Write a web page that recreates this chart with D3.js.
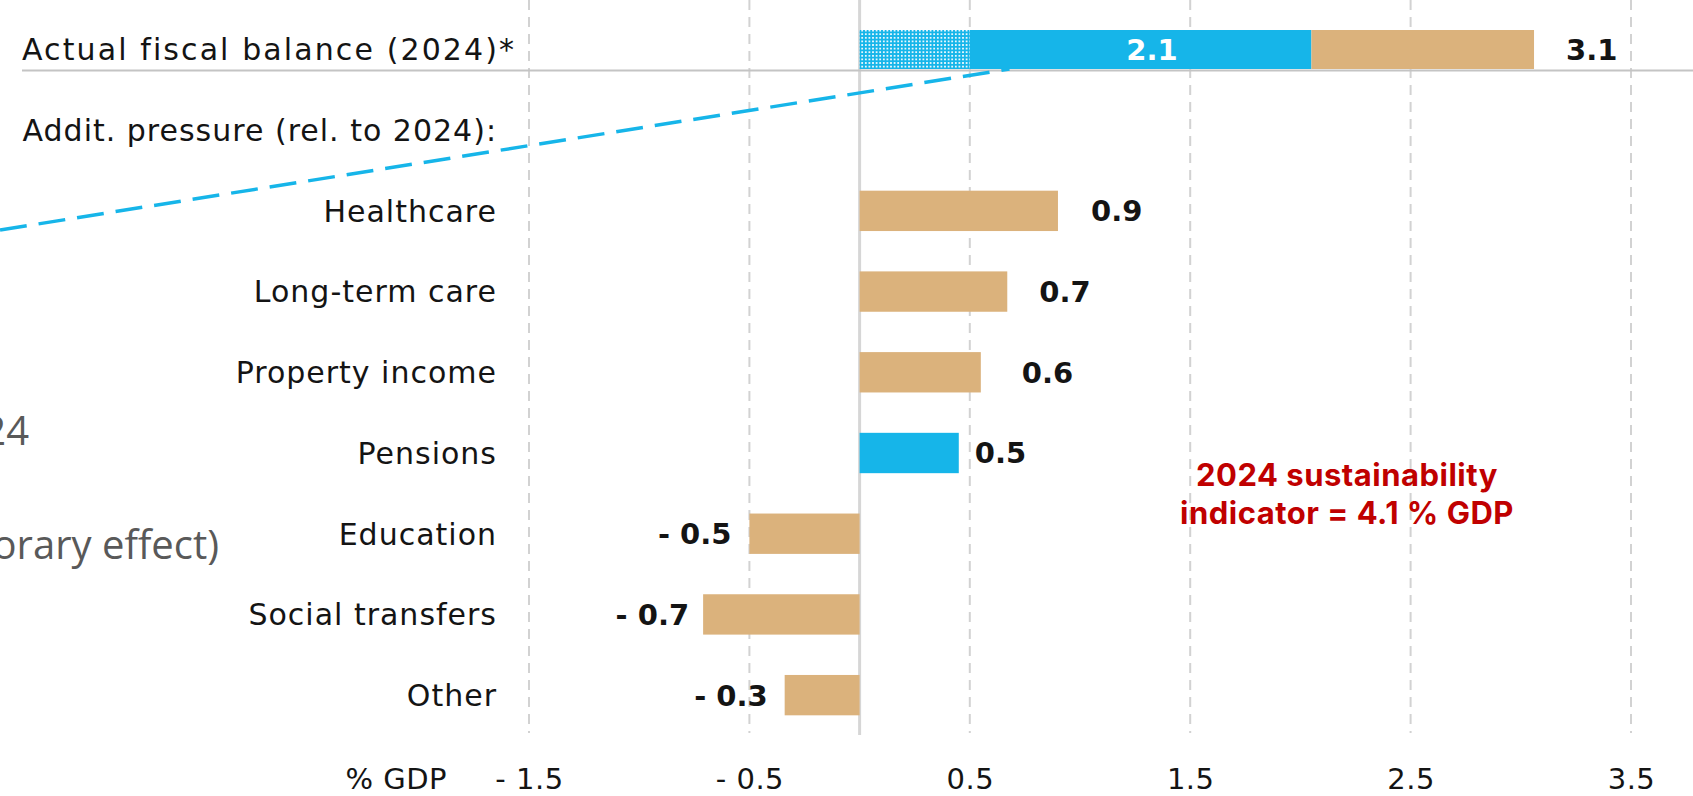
<!DOCTYPE html>
<html>
<head>
<meta charset="utf-8">
<script src="https://cdn.jsdelivr.net/npm/d3@7"></script>
<style>
  body { margin: 0; background: #fff; }
  svg { display: block; }
</style>
</head>
<body>
<div id="graph"></div>
<script>
// categories and values (% GDP)
var categories = ["Healthcare", "Long-term care", "Property income", "Pensions",
                  "Education", "Social transfers", "Other"];
var values = [0.90, 0.67, 0.55, 0.45, -0.50, -0.71, -0.34];
var valueLabels = ["0.9", "0.7", "0.6", "0.5", "- 0.5", "- 0.7", "- 0.3"];
var barKinds = ["tan", "tan", "tan", "blue", "tan", "tan", "tan"];

// top bar: actual fiscal balance 2024, split in three parts
var balanceKinds = ["dotted", "blue", "tan"];
var balanceBounds = [0, 0.5, 2.05, 3.06];
var balanceInnerLabel = "2.1";
var balanceTotalLabel = "3.1";

// axis
var tickValues = [-1.5, -0.5, 0.5, 1.5, 2.5, 3.5];

// leader line from the (clipped) note on the left to the top bar
var leaderFrom = -3.9, leaderTo = 0.68;

var width = 1693;
var height = 796;

// extra gap between bar end and its label (as placed in the original)
var labelGap = [33, 32, 41, 16, 18, 14, 17];

var colors = { tan: '#dbb27c', blue: '#16b5e9', red: '#c00000', text: '#141414' };

var x = d3.scaleLinear()
  .domain([-1.5, 3.5])
  .range([529, 1631]);

var y = d3.scaleBand()
  .domain(categories)
  .range([170.5, 735.5])
  .paddingInner(0.5)
  .paddingOuter(0.25);

var svg = d3.select('#graph').append('svg')
  .attr('width', width)
  .attr('height', height);

var defs = svg.append('defs');
var pat = defs.append('pattern')
  .attr('id', 'dots')
  .attr('patternUnits', 'userSpaceOnUse')
  .attr('width', 3.6)
  .attr('height', 3.6);
pat.append('rect').attr('width', 3.6).attr('height', 3.6).attr('fill', colors.blue);
pat.append('rect').attr('x', 0.9).attr('y', 0.9).attr('width', 1.8).attr('height', 1.8).attr('fill', '#e8f7fd');

var fill = function(k) {
  if (k == 'dotted') return 'url(#dots)';
  return colors[k];
};

// gridlines
svg.append('g').selectAll('line.grid')
  .data(tickValues)
  .enter().append('line')
  .attr('class', 'grid')
  .attr('x1', function(d) { return x(d); })
  .attr('x2', function(d) { return x(d); })
  .attr('y1', 0)
  .attr('y2', 733)
  .attr('stroke', '#d2d2d2')
  .attr('stroke-width', 2)
  .attr('stroke-dasharray', '10,7');

// zero line
svg.append('line')
  .attr('x1', x(0)).attr('x2', x(0))
  .attr('y1', 0).attr('y2', 735)
  .attr('stroke', '#d6d6d6')
  .attr('stroke-width', 3);

// separator under the top row
svg.append('line')
  .attr('x1', 22).attr('x2', width)
  .attr('y1', 70.5).attr('y2', 70.5)
  .attr('stroke', '#c4c4c4')
  .attr('stroke-width', 2);

// top bar
var topY = 30, topH = 39;
svg.append('g').selectAll('rect')
  .data(balanceKinds)
  .enter().append('rect')
  .attr('x', function(d, i) { return x(balanceBounds[i]); })
  .attr('width', function(d, i) { return x(balanceBounds[i + 1]) - x(balanceBounds[i]); })
  .attr('y', topY)
  .attr('height', topH)
  .attr('fill', function(d) { return fill(d); });

svg.append('text')
  .attr('x', 1152)
  .attr('y', topY + topH / 2)
  .attr('dy', '0.36em')
  .attr('text-anchor', 'middle')
  .attr('fill', '#fff')
  .style('font', 'bold 29px "DejaVu Sans"')
  .text(balanceInnerLabel);

svg.append('text')
  .attr('x', x(balanceBounds[3]) + 32)
  .attr('y', topY + topH / 2)
  .attr('dy', '0.36em')
  .attr('fill', colors.text)
  .style('font', 'bold 29px "DejaVu Sans"')
  .text(balanceTotalLabel);

// dashed leader line
svg.append('line')
  .attr('x1', x(leaderFrom)).attr('y1', 230)
  .attr('x2', x(leaderTo)).attr('y2', topY + topH)
  .attr('stroke', colors.blue)
  .attr('stroke-width', 3.5)
  .attr('stroke-dasharray', '27,12');

// row headers
svg.append('text')
  .attr('x', 22).attr('y', 49).attr('dy', '0.36em')
  .attr('fill', colors.text)
  .style('font', '30px "DejaVu Sans"')
  .style('letter-spacing', '2.1px')
  .text('Actual fiscal balance (2024)*');

svg.append('text')
  .attr('x', 497).attr('y', 130).attr('dy', '0.36em')
  .attr('text-anchor', 'end')
  .attr('fill', colors.text)
  .style('font', '30px "DejaVu Sans"')
  .style('letter-spacing', '1px')
  .text('Addit. pressure (rel. to 2024):');

// category labels
svg.append('g').selectAll('text')
  .data(categories)
  .enter().append('text')
  .attr('x', 497)
  .attr('y', function(d) { return y(d) + y.bandwidth() / 2; })
  .attr('dy', '0.36em')
  .attr('text-anchor', 'end')
  .attr('fill', colors.text)
  .style('font', '30px "DejaVu Sans"')
  .style('letter-spacing', '1px')
  .text(function(d) { return d; });

// bars
svg.append('g').selectAll('rect')
  .data(values)
  .enter().append('rect')
  .attr('x', function(d) { return x(Math.min(0, d)); })
  .attr('width', function(d) { return Math.abs(x(d) - x(0)); })
  .attr('y', function(d, i) { return y(categories[i]); })
  .attr('height', y.bandwidth())
  .attr('fill', function(d, i) { return colors[barKinds[i]]; });

// value labels
svg.append('g').selectAll('text')
  .data(values)
  .enter().append('text')
  .attr('x', function(d, i) { return d >= 0 ? x(d) + labelGap[i] : x(d) - labelGap[i]; })
  .attr('y', function(d, i) { return y(categories[i]) + y.bandwidth() / 2; })
  .attr('dy', '0.36em')
  .attr('text-anchor', function(d) { return d >= 0 ? 'start' : 'end'; })
  .attr('fill', colors.text)
  .style('font', 'bold 29px "DejaVu Sans"')
  .text(function(d, i) { return valueLabels[i]; });

// red note
var note = svg.append('text')
  .attr('text-anchor', 'middle')
  .attr('fill', colors.red)
  .style('font', 'bold 31px Inter')
  .style('letter-spacing', '0.5px');
note.append('tspan').attr('x', 1347).attr('y', 486).text('2024 sustainability');
note.append('tspan').attr('x', 1347).attr('y', 524).text('indicator = 4.1 % GDP');

// x axis
var axis = d3.axisBottom(x)
  .tickValues(tickValues)
  .tickSize(0)
  .tickPadding(0)
  .tickFormat(function(d) { return d < 0 ? '- ' + Math.abs(d) : d; });

var ax = svg.append('g')
  .attr('transform', 'translate(0,768)')
  .call(axis);
ax.select('.domain').remove();
ax.selectAll('text')
  .attr('fill', colors.text)
  .style('font', '29px "DejaVu Sans"')
  .style('letter-spacing', '0.5px');

svg.append('text')
  .attr('x', 447).attr('y', 768).attr('dy', '0.71em')
  .attr('text-anchor', 'end')
  .attr('fill', colors.text)
  .style('font', '29px "DejaVu Sans"')
  .style('letter-spacing', '0.5px')
  .text('% GDP');

// clipped text from the slide on the left (cut off at the edge in the original too)
svg.append('text')
  .attr('x', 29).attr('y', 445)
  .attr('text-anchor', 'end')
  .attr('fill', '#595959')
  .style('font', '40px "Open Sans"')
  .text('2024');

svg.append('text')
  .attr('x', 219).attr('y', 559)
  .attr('text-anchor', 'end')
  .attr('fill', '#595959')
  .style('font', '40px "Open Sans"')
  .text('(temporary effect)');
</script>
</body>
</html>
